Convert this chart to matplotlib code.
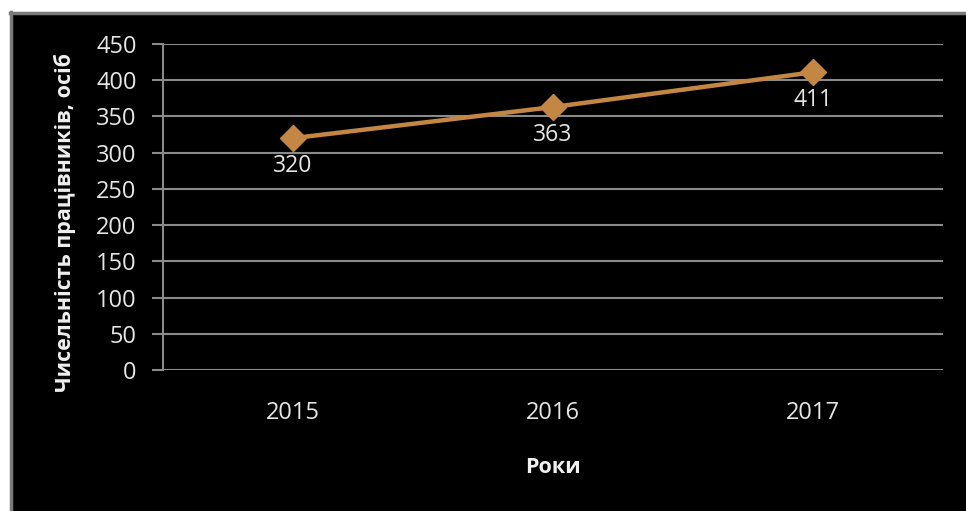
import matplotlib
matplotlib.use("Agg")
import matplotlib.pyplot as plt
from matplotlib.patches import Rectangle
from matplotlib.lines import Line2D

years = ["2015", "2016", "2017"]
workers = [320, 363, 411]
y_ticks = [0, 50, 100, 150, 200, 250, 300, 350, 400, 450]

plt.rcParams['font.family'] = ['Open Sans', 'DejaVu Sans']

W, H = 966, 511
fig = plt.figure(figsize=(W / 100, H / 100), dpi=100)
fig.patch.set_facecolor("white")

# black chart box
fig.patches.append(Rectangle((10 / W, 0), 1 - 10 / W, (H - 12) / H,
                             transform=fig.transFigure, facecolor="black",
                             edgecolor="none", zorder=-3))
fig.lines.append(Line2D([11 / W, 11 / W], [0, (H - 12) / H], transform=fig.transFigure,
                        color="#7a7a7a", lw=2.5, zorder=-2))
fig.lines.append(Line2D([10 / W, 1], [(H - 13) / H, (H - 13) / H], transform=fig.transFigure,
                        color="#7a7a7a", lw=2.5, zorder=-2))

ax = fig.add_axes([163 / W, (H - 370) / H, (943 - 163) / W, (370 - 44) / H])
ax.set_facecolor("none")

x = list(range(len(years)))
ax.plot(x, workers, color="#C48743", lw=3.2, marker="D", markersize=13,
        markerfacecolor="#C48743", markeredgecolor="#C48743", zorder=3)
for xi, v in zip(x, workers):
    ax.annotate(str(v), (xi, v), xytext=(0, -28), textcoords="offset pixels",
                ha="center", va="center", color="#E6E6E6", fontsize=16.5)

ax.set_xlim(-0.5, len(years) - 0.5)
ax.set_ylim(0, 450)
ax.set_yticks(y_ticks)
ax.set_xticks(x)
ax.set_xticklabels(years)
ax.yaxis.grid(True, color="#8a8a8a", lw=1.5)
ax.set_axisbelow(True)

for s in ["top", "right", "bottom"]:
    ax.spines[s].set_visible(False)
ax.spines["left"].set_color("#8a8a8a")
ax.spines["left"].set_linewidth(1.5)

ax.tick_params(axis="y", colors="#8a8a8a", length=8, width=1.5, labelcolor="#E6E6E6",
               labelsize=17, pad=11)
ax.tick_params(axis="x", length=0, labelcolor="#E6E6E6", labelsize=17, pad=22)

ax.set_xlabel("Роки", color="#F0F0F0", fontsize=15.5, fontweight="bold")
ax.set_ylabel("Чисельність працівників, осіб", color="#F0F0F0", fontsize=15.5,
              fontweight="bold")
ax.xaxis.set_label_coords(0.5, (370 - 457) / 326)
ax.yaxis.set_label_coords((76 - 163) / 780, (370 - 222) / 326)

fig.savefig("out.png", dpi=100, facecolor=fig.get_facecolor())
